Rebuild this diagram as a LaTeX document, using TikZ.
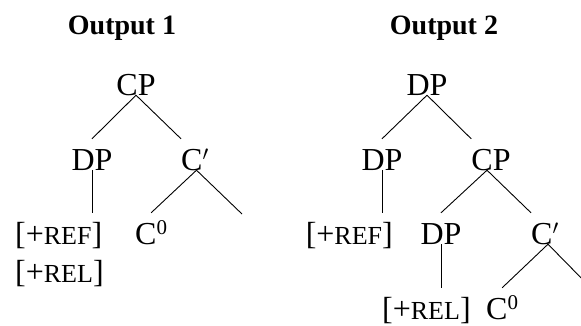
\documentclass[tikz,border=0pt]{standalone}
\usepackage{fontspec}
\setmainfont{Liberation Serif}
\begin{document}
\begin{tikzpicture}[x=1pt,y=-1pt,
  lab/.style={font=\fontsize{32}{34}\selectfont, inner sep=0pt, anchor=base,
              text height=31pt, text depth=0pt},
  ttl/.style={font=\fontsize{28}{30}\selectfont\bfseries, inner sep=0pt, anchor=base},
  edge/.style={draw, line width=0.9pt}]
\newcommand{\feat}[1]{[+{\fontsize{26}{28}\selectfont #1}]}
\newcommand{\czero}{C\raisebox{10pt}{\fontsize{21}{21}\selectfont 0}}
\clip (0,0) rectangle (581,325);

% Output 1
\node[ttl] (t1) at (122,34) {Output 1};
\node[lab] (cp1) at (136,95) {CP};
\node[lab] (dp1) at (92,170) {DP};
\node[lab] (cb1) at (195,170) {C$'$};
\node[lab, anchor=base west] (ref1) at (15,244) {\feat{REF}};
\node[lab, anchor=base west] (c01) at (135,244) {\czero};
\node[lab, anchor=base west] (rel1) at (15,282) {\feat{REL}};
\coordinate (e1) at (242,214);

\draw[edge] (cp1.south) -- (dp1.north);
\draw[edge] (cp1.south) -- (cb1.north west);
\draw[edge] (dp1.south) -- (dp1.south |- ref1.north);
\draw[edge] ([xshift=1.5pt]cb1.south) -- (c01.north);
\draw[edge] ([xshift=1.5pt]cb1.south) -- (e1);

% Output 2
\node[ttl] (t2) at (444,34) {Output 2};
\node[lab] (dp2) at (427,95) {DP};
\node[lab] (dpa) at (382,170) {DP};
\node[lab] (cp2) at (491,170) {CP};
\node[lab, anchor=base east] (ref2) at (393,244) {\feat{REF}};
\node[lab] (dpb) at (441,244) {DP};
\node[lab] (cb2) at (545,244) {C$'$};
\node[lab, anchor=base west] (rel2) at (382,319) {\feat{REL}};
\node[lab, anchor=base west] (c02) at (486,319) {\czero};
\coordinate (e2) at (593,290);

\draw[edge] (dp2.south) -- (dpa.north);
\draw[edge] (dp2.south) -- (cp2.north west);
\draw[edge] (dpa.south) -- (dpa.south |- ref2.north);
\draw[edge] ([xshift=-4pt]cp2.south) -- (dpb.north);
\draw[edge] ([xshift=-4pt]cp2.south) -- (cb2.north west);
\draw[edge] (dpb.south) -- (dpb.south |- rel2.north);
\draw[edge] ([xshift=3pt]cb2.south) -- (c02.north);
\draw[edge] ([xshift=3pt]cb2.south) -- (e2);
\end{tikzpicture}
\end{document}
